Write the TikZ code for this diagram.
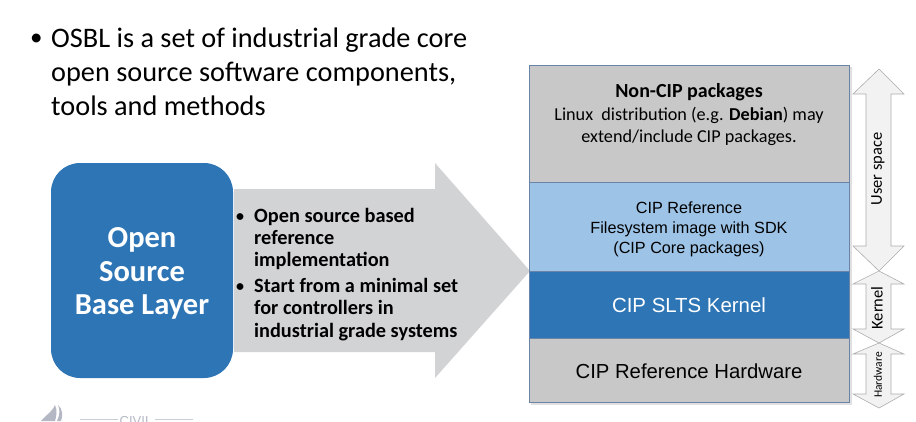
\documentclass[tikz,border=0pt]{standalone}
\usepackage{fontspec}
\setmainfont{Carlito}
\newfontfamily\arialf{Liberation Sans}
\usetikzlibrary{shapes.arrows,calc}
\definecolor{cipblue}{HTML}{2E75B6}
\definecolor{ciplight}{HTML}{9DC3E6}
\definecolor{cipgrey}{HTML}{C8C8C8}
\definecolor{arrowgrey}{HTML}{D2D3D5}
\definecolor{logogrey}{HTML}{B4B8C4}
\definecolor{edgeblue}{HTML}{6A83A6}
\tikzset{
  x=1pt,y=-1pt,
  layer/.style={draw=edgeblue,line width=.7pt},
  txt/.style={anchor=base,align=center,inner sep=0pt,text=black},
  side/.style={draw=black!32,fill=black!5,line width=.6pt,line join=miter},
  lead/.style={anchor=base west,inner sep=0pt,text=black,font=\fontsize{28.3}{28.3}\selectfont},
  leaddot/.style={anchor=base west,inner sep=0pt,text=black,font=\fontsize{25}{25}\selectfont},
  bul/.style={anchor=base west,inner sep=0pt,text=black,font=\bfseries\fontsize{20.3}{20.3}\selectfont},
  buldot/.style={anchor=base west,inner sep=0pt,text=black,font=\bfseries\fontsize{16}{16}\selectfont},
  bigw/.style={txt,text=white,font=\bfseries\fontsize{30.5}{30.5}\selectfont},
  sidelab/.style={rotate=90,inner sep=0pt,text=black},
}
\newcommand{\sidearrow}[4]{% top tip, top base, lower base, lower tip
  \draw[side] (879,#1) -- (904,#2) -- (891,#2) -- (891,#3) -- (904,#3) -- (879,#4)
    -- (853,#3) -- (866,#3) -- (866,#2) -- (853,#2) -- cycle;}
\begin{document}
\begin{tikzpicture}
\useasboundingbox (0,0) rectangle (916,421);
% heading
\node[leaddot] (b0) at (30,45) {•};
\node[lead] (t1) at (51,47) {OSBL is a set of industrial grade core};
\node[lead] (t2) at (51,81) {open source software components,};
\node[lead] (t3) at (51,115) {tools and methods};
% big arrow
\fill[arrowgrey] (234,189) -- (435,189) -- (435,163) -- (530,271) -- (435,378) -- (435,352) -- (234,352) -- cycle;
% base layer
\fill[cipblue,rounded corners=29pt] (51,163) rectangle (233,378);
\node[bigw] (o1) at (142,247) {Open};
\node[bigw] (o2) at (142,281) {Source};
\node[bigw] (o3) at (142,314) {Base Layer};
% bullets
\node[buldot] (b1) at (236,221) {•};
\node[bul] (l1) at (254,222) {Open source based};
\node[bul] (l2) at (254,244) {reference};
\node[bul] (l3) at (254,266) {implementation};
\node[buldot] (b2) at (236,291) {•};
\node[bul] (l4) at (254,292) {Start from a minimal set};
\node[bul] (l5) at (254,314) {for controllers in};
\node[bul] (l6) at (254,337) {industrial grade systems};
% stack
\fill[black!12] (531,67) rectangle (851.5,404.5);
\fill[black!28] (530,66) rectangle (850,403);
\filldraw[layer,fill=cipgrey] (529,65) rectangle (849,182);
\filldraw[layer,fill=ciplight] (529,182) rectangle (849,271);
\filldraw[layer,fill=cipblue] (529,271) rectangle (849,338);
\filldraw[layer,fill=cipgrey] (529,338) rectangle (849,402);
\node[txt,font=\bfseries\fontsize{20}{20}\selectfont] (n1) at (689,97) {Non-CIP packages};
\node[txt,font=\fontsize{18.2}{18.2}\selectfont] (n2) at (689,120) {Linux\ \ distribution (e.g. \textbf{Debian}) may};
\node[txt,font=\fontsize{18.2}{18.2}\selectfont] (n3) at (689,142) {extend/include CIP packages.};
\node[txt,font=\arialf\fontsize{16.2}{16.2}\selectfont] (c1) at (689,213) {CIP Reference};
\node[txt,font=\arialf\fontsize{16.2}{16.2}\selectfont] (c2) at (689,233) {Filesystem image with SDK};
\node[txt,font=\arialf\fontsize{16.2}{16.2}\selectfont] (c3) at (689,253) {(CIP Core packages)};
\node[txt,text=white,font=\arialf\fontsize{20.4}{20.4}\selectfont] (k) at (689,312) {CIP SLTS Kernel};
\node[txt,font=\arialf\fontsize{20.3}{20.3}\selectfont] (h) at (689,378) {CIP Reference Hardware};
% side arrows
\sidearrow{69}{94}{246}{271}
\sidearrow{271}{284}{329}{343}
\sidearrow{343}{354}{394}{408}
\node[sidelab,font=\fontsize{16.5}{16.5}\selectfont] (us) at (878,169) {User space};
\node[sidelab,font=\fontsize{16.5}{16.5}\selectfont] (ke) at (877,308) {Kernel};
\node[sidelab,font=\fontsize{11.5}{11.5}\selectfont] (hw) at (878,375) {Hardware};
% logo cut by lower edge
\begin{scope}
\clip (0,0) rectangle (916,421);
\fill[logogrey] (41,421) .. controls (47,414) and (53,411) .. (55,405) .. controls (58,411) and (56,417) .. (55,421) -- cycle;
\fill[logogrey] (57,421) .. controls (60,415) and (60,409) .. (58,405) .. controls (63,409) and (63,416) .. (61,421) -- cycle;
\draw[logogrey!70,line width=.7pt] (80,419) -- (118,419) (155,419) -- (193,419);
\node[txt,text=logogrey,font=\arialf\fontsize{13}{13}\selectfont] (civ) at (136,425) {CIVIL};
\end{scope}
\end{tikzpicture}
\end{document}
